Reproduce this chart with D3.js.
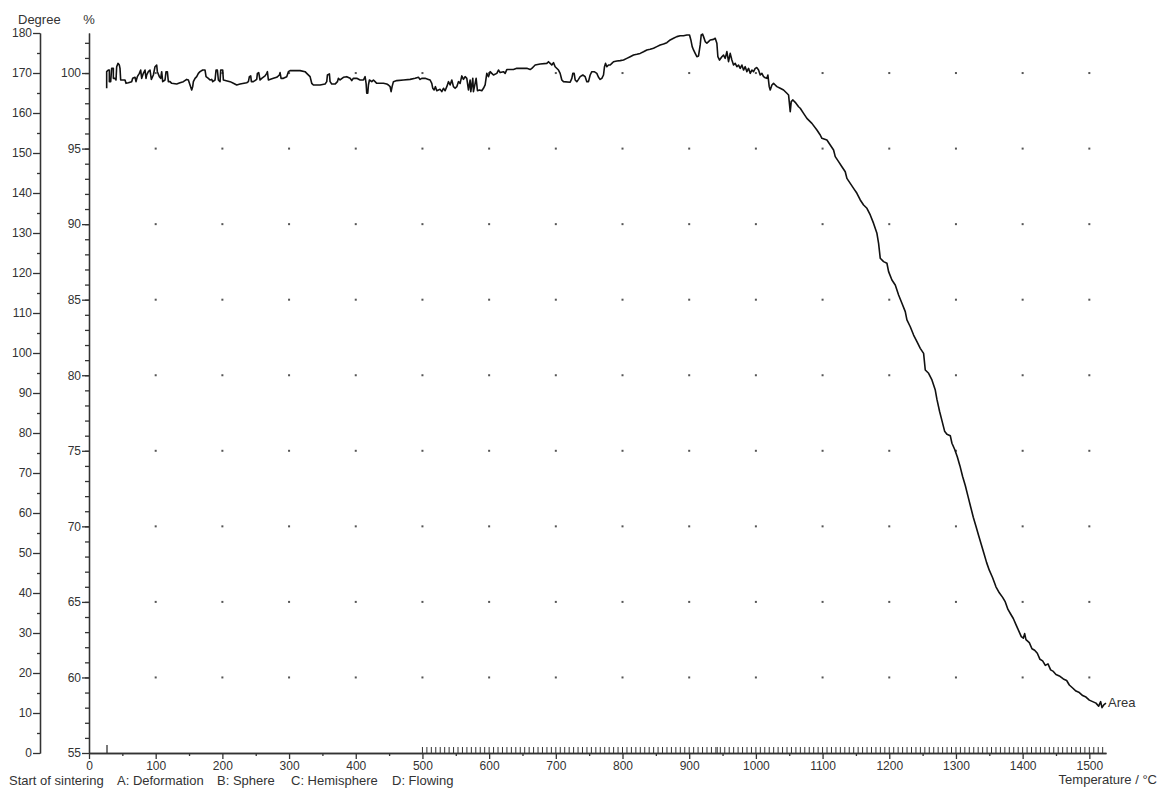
<!DOCTYPE html>
<html>
<head>
<meta charset="utf-8">
<script src="https://cdn.jsdelivr.net/npm/d3@7"></script>
<style>
  body { margin: 0; background: #fff; }
  svg text { font-family: "Liberation Sans", Arial, sans-serif; fill: #333; }
</style>
</head>
<body>
<div id="chart"></div>
<script>
const W = 1158, H = 789;

// axis ticks
const degreeTicks = [0, 10, 20, 30, 40, 50, 60, 70, 80, 90, 100, 110, 120, 130, 140, 150, 160, 170, 180];
const pctTicks = [55, 60, 65, 70, 75, 80, 85, 90, 95, 100];
const tempTicks = [0, 100, 200, 300, 400, 500, 600, 700, 800, 900, 1000, 1100, 1200, 1300, 1400, 1500];
const gridTemps = [100, 200, 300, 400, 500, 600, 700, 800, 900, 1000, 1100, 1200, 1300, 1400, 1500];
const gridPcts = [60, 65, 70, 75, 80, 85, 90, 95, 100];
const legendItems = ["Start of sintering", "A: Deformation", "B: Sphere", "C: Hemisphere", "D: Flowing"];
const sinterStart = 27;

// area curve [temperature °C, area %]
const areaCurve = [
  [26.5, 98.99], [26.5, 100.09], [29, 100.2], [30.5, 100.2], [30.5, 99.43], [32.5, 99.43], [34, 100.31],
  [36.5, 100.31], [36.5, 99.65], [39, 99.65], [40.5, 99.54], [41.5, 100.42], [43.5, 100.64], [45.5, 100.53],
  [46.5, 100.31], [47.5, 99.54], [54, 99.54], [55.5, 99.32], [59, 99.36], [64, 99.43], [65.5, 99.65],
  [69, 99.72], [70.5, 99.43], [72.5, 99.76], [75.5, 99.98], [77.5, 100.2], [79, 99.65], [81.5, 99.98],
  [84, 100.2], [85.5, 99.65], [86.5, 99.87], [89, 100.09], [91.5, 100.2], [93.5, 99.58], [96.5, 99.87],
  [99, 100.42], [101.5, 100.53], [102.5, 100.09], [105.5, 99.76], [107.5, 99.65], [109, 100.09], [110.5, 99.43],
  [114, 99.54], [115.5, 100.09], [117.5, 100.09], [119, 99.43], [121.5, 99.43], [124, 99.32], [131.5, 99.27],
  [136.5, 99.36], [141.5, 99.43], [146.5, 99.58], [149, 99.54], [151.5, 99.21], [154, 98.88], [155.5, 99.1],
  [156.5, 99.43], [159, 99.65], [161.5, 99.76], [164, 99.98], [166.5, 100.09], [170.5, 100.2], [174, 100.2],
  [175.5, 99.76], [179, 99.65], [181.5, 99.54], [184, 99.58], [185.5, 99.43], [189, 99.54], [190.5, 100.2],
  [192.5, 100.2], [194, 99.54], [196.5, 99.43], [197.5, 100.2], [200.5, 100.2], [201.5, 99.54], [211.5, 99.43],
  [216.5, 99.32], [221.5, 99.21], [226.5, 99.27], [236.5, 99.36], [239, 99.43], [240.5, 99.76], [242.5, 99.81],
  [243.5, 99.43], [246.5, 99.43], [251.5, 99.58], [252.5, 99.98], [254.5, 100.03], [256.5, 99.54], [259, 99.65],
  [264, 99.81], [266.5, 99.98], [267.5, 100.09], [269, 99.54], [276.5, 99.65], [281.5, 99.72], [285.5, 99.87],
  [286.5, 100.03], [288, 99.65], [291.5, 99.65], [296.5, 99.76], [299, 100.09], [301.5, 100.16], [316.5, 100.16],
  [324, 100.09], [326.5, 99.98], [331.5, 99.76], [334, 99.32], [336.5, 99.21], [346.5, 99.21], [354, 99.27],
  [356.5, 99.43], [357.5, 99.87], [360.5, 99.94], [361.5, 99.43], [364, 99.27], [369, 99.27], [372.5, 99.43],
  [374, 99.65], [376.5, 99.54], [381.5, 99.72], [386.5, 99.76], [391.5, 99.65], [394, 99.5], [396.5, 99.65],
  [401.5, 99.65], [406.5, 99.54], [411.5, 99.54], [414, 99.76], [415.5, 99.32], [416.5, 98.66], [418, 98.66],
  [419, 99.21], [420.5, 99.54], [424, 99.43], [426.5, 99.54], [429, 99.43], [431.5, 99.32], [441.5, 99.32],
  [446.5, 99.27], [449, 99.21], [451.5, 99.1], [453, 98.77], [454.5, 99.1], [456.5, 99.43], [461.5, 99.5],
  [471.5, 99.54], [481.5, 99.58], [489, 99.65], [494, 99.72], [496.5, 99.58], [499, 99.65], [504, 99.65],
  [509, 99.58], [511.5, 99.54], [514, 99.32], [515.5, 98.99], [517.5, 98.88], [519.5, 99.1], [521.5, 98.83],
  [524, 98.88], [526.5, 98.92], [529, 98.77], [531.5, 98.99], [534, 98.83], [536.5, 99.1], [539, 99.43],
  [541.5, 99.21], [544, 99.54], [546.5, 99.1], [549, 98.99], [551.5, 99.1], [554, 99.43], [556.5, 99.32],
  [559, 99.81], [561.5, 99.58], [564, 99.76], [566.5, 99.65], [569, 98.88], [571.5, 99.54], [572.5, 98.77],
  [575.5, 99.65], [576.5, 98.77], [580.5, 99.65], [582.5, 98.83], [585.5, 98.88], [589, 98.83], [591.5, 98.99],
  [594, 99.21], [596.5, 99.98], [599, 99.76], [601.5, 100.09], [604, 99.98], [606.5, 99.87], [611.5, 99.98],
  [614, 100.2], [616.5, 100.03], [621.5, 100.09], [624, 99.98], [626.5, 100.23], [636.5, 100.23], [641.5, 100.31],
  [656.5, 100.31], [661.5, 100.23], [664, 100.31], [666.5, 100.42], [669, 100.53], [676.5, 100.6], [686.5, 100.64],
  [689, 100.75], [691.5, 100.64], [694, 100.53], [696.5, 100.69], [699, 100.42], [704, 100.2], [706.5, 99.98],
  [709, 99.54], [711.5, 99.43], [721.5, 99.39], [724, 99.65], [725.5, 99.98], [727.5, 99.98], [729, 99.54],
  [731.5, 99.43], [734, 99.58], [736.5, 99.76], [740.5, 99.87], [744, 99.76], [746.5, 99.43], [749, 99.43],
  [751.5, 99.87], [754, 100.09], [757.5, 100.09], [761.5, 99.98], [764, 99.72], [766.5, 99.58], [769, 99.65],
  [771.5, 99.87], [773, 100.42], [774.5, 100.64], [776.5, 100.42], [779, 100.53], [781.5, 100.53], [784, 100.64],
  [786.5, 100.75], [791.5, 100.8], [796.5, 100.82], [801.5, 100.86], [806.5, 100.97], [811.5, 101.08],
  [816.5, 101.19], [821.5, 101.24], [826.5, 101.3], [831.5, 101.41], [836.5, 101.53], [841.5, 101.57],
  [846.5, 101.64], [851.5, 101.75], [856.5, 101.86], [861.5, 101.92], [866.5, 102.01], [871.5, 102.19],
  [876.5, 102.3], [881.5, 102.41], [886.5, 102.47], [891.5, 102.47], [896.5, 102.52], [900.5, 102.52],
  [902.5, 102.19], [904.5, 101.75], [906.5, 101.53], [909, 101.3], [911.5, 101.08], [914, 101.13], [916.5, 101.86],
  [918, 102.52], [920, 102.58], [921.5, 102.41], [924, 102.08], [926.5, 101.97], [929, 102.08], [931.5, 102.19],
  [936.5, 102.23], [939, 102.3], [941.5, 101.97], [943, 101.08], [945.5, 100.86], [949, 101.08], [951.5, 101.19],
  [954, 100.97], [956.5, 101.42], [959, 100.75], [961.5, 101.3], [964, 100.86], [966.5, 100.53], [969, 100.64],
  [971.5, 100.42], [974, 100.53], [976.5, 100.31], [979, 100.53], [981.5, 100.2], [984, 100.42], [986.5, 100.09],
  [989, 100.31], [991.5, 99.98], [994, 100.2], [996.5, 100.09], [999, 100.31], [1001.5, 100.36], [1004, 100.2],
  [1006.5, 99.87], [1009, 99.98], [1011.5, 99.76], [1014, 99.69], [1016.5, 99.65], [1018, 99.87], [1020, 99.1],
  [1021.5, 98.88], [1024, 99.21], [1026.5, 99.32], [1029, 99.21], [1031.5, 99.1], [1036.5, 98.99], [1041.5, 98.88],
  [1046.5, 98.66], [1049, 98.55], [1050.5, 97.89], [1051.5, 97.44], [1053, 98.11], [1055.5, 98.22], [1059, 98.06],
  [1064, 97.77], [1066.5, 97.67], [1071.5, 97.33], [1076.5, 97.0], [1084, 96.67], [1091.5, 96.23], [1096.5, 95.9],
  [1099, 95.68], [1106.5, 95.57], [1111.5, 95.24], [1116.5, 94.91], [1119, 94.47], [1124, 94.14], [1129, 93.8],
  [1134, 93.47], [1136.5, 93.03], [1141.5, 92.7], [1146.5, 92.37], [1151.5, 92.04], [1154, 91.82], [1156.5, 91.6],
  [1161.5, 91.27], [1166.5, 91.05], [1171.5, 90.61], [1176.5, 90.05], [1181.5, 89.39], [1184, 88.73],
  [1186.5, 87.74], [1191.5, 87.52], [1196.5, 87.41], [1199, 86.86], [1204, 86.3], [1209, 85.97], [1214, 85.31],
  [1219, 84.76], [1224, 84.21], [1226.5, 83.66], [1231.5, 83.21], [1236.5, 82.66], [1241.5, 82.22], [1246.5, 81.78],
  [1251.5, 81.45], [1254, 80.35], [1259, 80.13], [1264, 79.69], [1269, 79.02], [1271.5, 78.4], [1275.5, 77.6],
  [1279, 77.0], [1283, 76.3], [1286.5, 76.1], [1291.5, 76.0], [1294, 75.5], [1298, 75.1], [1302, 74.6], [1306, 74.0],
  [1310, 73.3], [1314, 72.7], [1318, 72.0], [1322, 71.3], [1326, 70.6], [1330, 70.0], [1334, 69.4], [1338, 68.8],
  [1342, 68.2], [1346, 67.6], [1350, 67.1], [1355, 66.6], [1360, 66.0], [1365, 65.6], [1370, 65.3], [1374, 65.0],
  [1378, 64.5], [1382, 64.2], [1386, 63.9], [1390, 63.5], [1394, 63.1], [1398, 62.7], [1401, 62.6], [1403, 62.9],
  [1405, 62.5], [1410, 62.3], [1414, 61.9], [1418, 61.8], [1422, 61.6], [1426, 61.2], [1430, 61.1], [1434, 60.8],
  [1438, 60.9], [1442, 60.5], [1446, 60.4], [1450, 60.2], [1455, 60.1], [1461, 59.9], [1466, 59.8], [1470, 59.5],
  [1475, 59.3], [1480, 59.1], [1485, 59.0], [1490, 58.8], [1495, 58.7], [1500, 58.5], [1505, 58.4], [1510, 58.3],
  [1514, 58.1], [1517, 58.4], [1519, 58.0], [1522, 58.2], [1525, 58.3]
];

// recorded measurement marks along the temperature axis
const markTemps = d3.range(500, 1526, 100 / 15).concat([942]);

const svg = d3.select("#chart")
  .append("svg")
  .attr("width", W)
  .attr("height", H);

const x = d3.scaleLinear().domain([0, 1525]).range([89, 1106]);
const yPct = d3.scaleLinear().domain([55, 102.65]).range([753, 33]);
const yDeg = d3.scaleLinear().domain([0, 180]).range([753, 33]);

const axisColor = "#333";

function styleAxis(g) {
  g.selectAll("path, line").attr("stroke", axisColor).attr("stroke-width", 1.3);
  g.selectAll("text").attr("font-size", "12px").attr("fill", "#333");
}

// degree axis
svg.append("g")
  .attr("transform", "translate(40,0)")
  .call(d3.axisLeft(yDeg).tickValues(d3.range(5, 180, 10)).tickSize(3).tickFormat("").tickSizeOuter(0))
  .call(styleAxis);
svg.append("g")
  .attr("transform", "translate(40,0)")
  .call(d3.axisLeft(yDeg).tickValues(degreeTicks).tickSize(7).tickPadding(1).tickFormat(d3.format("d")).tickSizeOuter(0))
  .call(styleAxis);

// percent axis
svg.append("g")
  .attr("transform", "translate(89,0)")
  .call(d3.axisLeft(yPct).tickValues(d3.range(56, 103, 1)).tickSize(4).tickFormat("").tickSizeOuter(0))
  .call(styleAxis);
svg.append("g")
  .attr("transform", "translate(89,0)")
  .call(d3.axisLeft(yPct).tickValues(pctTicks).tickSize(7).tickPadding(1).tickFormat(d3.format("d")).tickSizeOuter(0))
  .call(styleAxis);

// temperature axis
svg.append("g")
  .attr("transform", "translate(0,753)")
  .call(d3.axisBottom(x).tickValues(d3.range(50, 1525, 100)).tickSize(3).tickFormat("").tickSizeOuter(0))
  .call(styleAxis);
svg.append("g")
  .attr("transform", "translate(0,753)")
  .call(d3.axisBottom(x).tickValues(tempTicks).tickSize(6).tickPadding(2).tickFormat(d3.format("d")).tickSizeOuter(0))
  .call(styleAxis);

// measurement marks above the axis
svg.append("g")
  .selectAll("line")
  .data(markTemps)
  .join("line")
  .attr("x1", d => x(d)).attr("x2", d => x(d))
  .attr("y1", 747).attr("y2", 753)
  .attr("stroke", axisColor).attr("stroke-width", 1);

svg.append("line")
  .attr("x1", x(sinterStart)).attr("x2", x(sinterStart))
  .attr("y1", 745).attr("y2", 753)
  .attr("stroke", axisColor).attr("stroke-width", 1.3);

// dotted grid
const gridPts = [];
gridTemps.forEach(t => gridPcts.forEach(p => gridPts.push([t, p])));
svg.append("g")
  .selectAll("rect")
  .data(gridPts)
  .join("rect")
  .attr("x", d => x(d[0]) - 1)
  .attr("y", d => yPct(d[1]) - 1)
  .attr("width", 2).attr("height", 2)
  .attr("fill", "#555");

// curve
const line = d3.line()
  .x(d => x(d[0]))
  .y(d => yPct(d[1]));

svg.append("path")
  .datum(areaCurve)
  .attr("fill", "none")
  .attr("stroke", "#111")
  .attr("stroke-width", 1.6)
  .attr("stroke-linejoin", "round")
  .attr("d", line);

const last = areaCurve[areaCurve.length - 1];
svg.append("text")
  .attr("x", x(last[0]) + 2)
  .attr("y", yPct(last[1]) + 4)
  .attr("font-size", "13px")
  .text("Area");

// axis titles
svg.append("text").attr("x", 18).attr("y", 24).attr("font-size", "13px").text("Degree");
svg.append("text").attr("x", 89).attr("y", 24).attr("text-anchor", "middle").attr("font-size", "13px").text("%");
svg.append("text").attr("x", 1157).attr("y", 784).attr("text-anchor", "end").attr("font-size", "13px").text("Temperature / °C");

// legend row
const legendX = [9, 117, 217, 291, 392];
svg.append("g")
  .selectAll("text")
  .data(legendItems)
  .join("text")
  .attr("x", (d, i) => legendX[i])
  .attr("y", 785)
  .attr("font-size", "13px")
  .text(d => d);
</script>
</body>
</html>
